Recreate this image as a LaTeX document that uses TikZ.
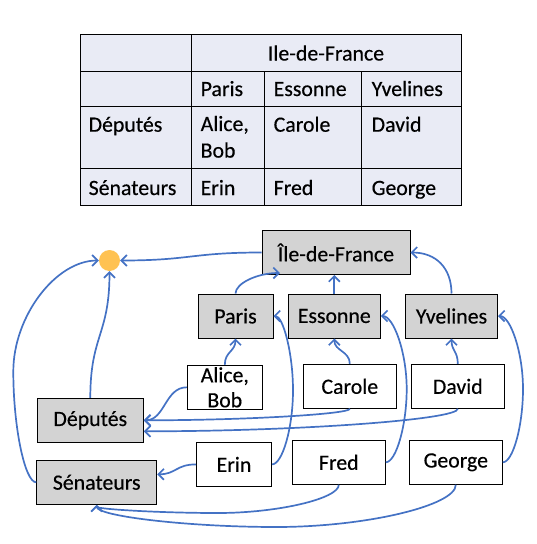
\documentclass[tikz,border=0pt]{standalone}
\usepackage{fontspec}
\setmainfont{Carlito}[FakeBold=0.4]
\usetikzlibrary{arrows.meta,calc}
\definecolor{tablebg}{RGB}{233,235,245}
\definecolor{boxgray}{RGB}{211,211,211}
\definecolor{linkblue}{RGB}{68,114,196}
\definecolor{dotorange}{RGB}{255,194,82}
\begin{document}
\begin{tikzpicture}[x=1pt,y=-1pt,
  every node/.style={font=\fontsize{21.8}{26.5}\selectfont},
  gbox/.style={draw=black,line width=1pt,fill=boxgray,inner sep=0,minimum height=44pt},
  wbox/.style={draw=black,line width=1pt,fill=white,inner sep=0,minimum height=44pt},
  link/.style={draw=linkblue,line width=1.7pt,-{Straight Barb[length=5.5pt,width=11pt]}},
  cell/.style={anchor=base west,inner sep=0},
  gridline/.style={draw=black,line width=1pt}]
\useasboundingbox (0,0) rectangle (536,544);

% ---- table ----
\fill[tablebg] (80,34.3) rectangle (461,205);
\draw[gridline] (80,34.3) rectangle (461,205);
\draw[gridline] (80,71) -- (461,71) (80,106.7) -- (461,106.7) (80,168.7) -- (461,168.7);
\draw[gridline] (191.3,34.3) -- (191.3,205) (264,71) -- (264,205) (361.7,71) -- (361.7,205);

\node[anchor=base,inner sep=0] (tIle) at (326,60.5) {Ile-de-France};
\node[cell] (tParis) at (200.5,96) {Paris};
\node[cell] (tEss) at (273.5,96) {Essonne};
\node[cell] (tYve) at (371.5,96) {Yvelines};
\node[cell] (tDep) at (88.5,131.7) {Députés};
\node[anchor=west,inner sep=0,align=left,font=\fontsize{21.8}{26.6}\selectfont] (tAB) at (200.5,136.8) {Alice,\\Bob};
\node[cell] (tCar) at (273.5,131.7) {Carole};
\node[cell] (tDav) at (371.5,131.7) {David};
\node[cell] (tSen) at (88.5,195) {Sénateurs};
\node[cell] (tErin) at (200.5,195) {Erin};
\node[cell] (tFred) at (273.5,195) {Fred};
\node[cell] (tGeo) at (371.5,195) {George};

% ---- graph nodes ----
\node[circle,fill=dotorange,minimum size=21pt,inner sep=0] (dot) at (109.5,260.5) {};
\node[gbox,minimum width=148pt] (ile) at (336,252.5) {Île-de-France};
\node[gbox,minimum width=75pt] (paris) at (235.5,316) {Paris};
\node[gbox,minimum width=92pt] (essonne) at (334.3,316) {Essonne};
\node[gbox,minimum width=92pt] (yvelines) at (451.5,316) {Yvelines};
\node[wbox,minimum width=75pt,align=center,font=\fontsize{21.8}{25}\selectfont] (alice) at (224.8,387.3) {Alice,\\Bob};
\node[wbox,minimum width=93pt] (carole) at (349.8,386.3) {Carole};
\node[wbox,minimum width=93pt] (david) at (457.8,386.3) {David};
\node[gbox,minimum width=106pt] (deputes) at (90.3,420.3) {Députés};
\node[gbox,minimum width=120pt] (senateurs) at (96.7,482.3) {Sénateurs};
\node[wbox,minimum width=75pt] (erin) at (234,464.4) {Erin};
\node[wbox,minimum width=93pt] (fred) at (338.8,462.3) {Fred};
\node[wbox,minimum width=93pt] (george) at (455.8,462.3) {George};

\coordinate (ileP) at (280,273);
\coordinate (depL) at ($(deputes.east)+(0,11)$);
\coordinate (senE) at ($(senateurs.east)+(0,-8)$);

% ---- connectors ----
\draw[link] (ile.west) .. controls +(-70,0) and +(70,0) .. (dot.east);
\draw[link] (paris.north) .. controls (235.5,283.5) and (257,273) .. (ileP);
\draw[link] (essonne.north) -- (essonne.north |- ile.south);
\draw[link] (yvelines.north) .. controls (451.5,268) and (436,252.5) .. (ile.east);
\draw[link] (alice.north) .. controls (224.8,351.5) and (235.5,351.5) .. (paris.south);
\draw[link] (alice.west) .. controls (165,387.3) and (165,420.3) .. (deputes.east);
\draw[link] (carole.north) .. controls (349.8,351) and (334.3,351) .. (essonne.south);
\draw[link] (carole.south) .. controls (349.8,414) and (246.5,420.3) .. (deputes.east);
\draw[link] (david.south) .. controls (457.8,419.5) and (300.5,431.3) .. (depL);
\draw[link] (david.north) .. controls (457.8,351) and (451.5,351) .. (yvelines.south);
\draw[link] (erin.west) .. controls (176,464.4) and (176,474.3) .. (senE);
\draw[link] (erin.east) .. controls (282.5,464.4) and (293,427.5) .. (293,390.3)
  .. controls (293,353) and (283,316) .. (paris.east);
\draw[link] (fred.east) .. controls (396,462.3) and (406.7,425.5) .. (406.7,389)
  .. controls (406.7,352.5) and (393.6,316) .. (essonne.east);
\draw[link] (george.east) .. controls (513,462.3) and (523,425.5) .. (523,389)
  .. controls (523,352.5) and (510.5,316) .. (yvelines.east);
\draw[link] (fred.south) .. controls (338.8,498.5) and (278.4,513) .. (217.9,513)
  .. controls (157.3,513) and (96.7,509) .. (senateurs.south);
\draw[link] (george.south) .. controls (455.8,505.5) and (366,527) .. (276.3,527)
  .. controls (186.5,527) and (96.7,516) .. (senateurs.south);
\draw[link] (deputes.north) .. controls (90.3,335) and (109.5,335) .. (dot.south);
\draw[link] (senateurs.west) .. controls (24.8,482.3) and (13.3,426.8) .. (13.3,371.5)
  .. controls (13.3,316) and (56,260.5) .. (dot.west);
\end{tikzpicture}
\end{document}
